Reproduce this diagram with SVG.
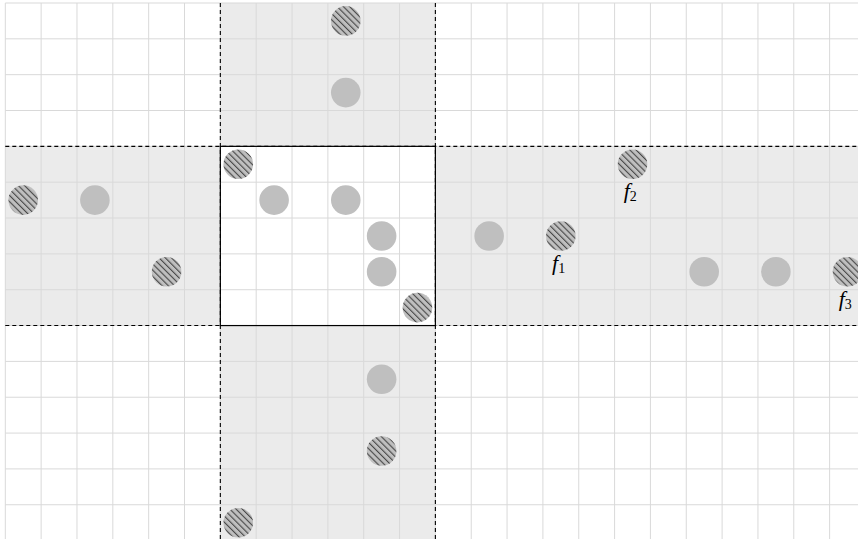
<svg xmlns="http://www.w3.org/2000/svg" width="858" height="539" viewBox="0 0 858 539">
<style>
.grid{stroke:#d9d9d9;stroke-width:1;fill:none}
.band{fill:#ebebeb}
.dash{stroke:#000;stroke-width:1.1;stroke-dasharray:4 3;fill:none}
.plain{fill:#bfbfbf}
.hatch{fill:url(#hp)}
.lbl{font-family:"Liberation Serif","DejaVu Serif",serif;font-size:22px;font-style:italic;fill:#000}
.sub{font-size:14px;font-style:normal}
</style>
<defs>
<pattern id="hp" patternUnits="userSpaceOnUse" width="4.4" height="4.4" patternTransform="rotate(-45)">
<rect width="4.4" height="4.4" fill="#bfbfbf"/>
<line x1="0.6" y1="0" x2="0.6" y2="4.4" stroke="#333" stroke-width="0.95"/>
</pattern>
</defs>
<rect width="858" height="539" fill="#fff"/>
<g id="bands">
<rect class="band" x="220.3" y="3" width="215.1" height="536"/>
<rect class="band" x="5.3" y="146.4" width="852.7" height="179.2"/>
<rect x="220.3" y="146.4" width="215.1" height="179.2" fill="#fff"/>
</g>
<g id="grid" class="grid">
<path d="M5.3 3V539M41.14 3V539M76.98 3V539M112.82 3V539M148.66 3V539M184.5 3V539M220.34 3V539M256.18 3V539M292.02 3V539M327.86 3V539M363.7 3V539M399.54 3V539M435.38 3V539M471.22 3V539M507.06 3V539M542.9 3V539M578.74 3V539M614.58 3V539M650.42 3V539M686.26 3V539M722.1 3V539M757.94 3V539M793.78 3V539M829.62 3V539"/>
<path d="M5.3 3H858M5.3 38.84H858M5.3 74.68H858M5.3 110.52H858M5.3 146.36H858M5.3 182.2H858M5.3 218.04H858M5.3 253.88H858M5.3 289.72H858M5.3 325.56H858M5.3 361.4H858M5.3 397.24H858M5.3 433.08H858M5.3 468.92H858M5.3 504.76H858"/>
</g>
<g id="dashed" class="dash">
<path d="M220.34 3V539M435.38 3V539M5.3 146.36H858M5.3 325.56H858"/>
</g>
<rect id="center-box" x="220.34" y="146.36" width="215.04" height="179.2" fill="none" stroke="#000" stroke-width="1.2"/>
<g id="top-band">
<g id="t1"><circle class="hatch" cx="345.78" cy="20.92" r="14.8"/></g>
<g id="t2"><circle class="plain" cx="345.78" cy="92.6" r="14.8"/></g>
</g>
<g id="center">
<g id="c1"><circle class="hatch" cx="238.26" cy="164.28" r="14.8"/></g>
<g id="c2"><circle class="plain" cx="274.1" cy="200.12" r="14.8"/></g>
<g id="c3"><circle class="plain" cx="345.78" cy="200.12" r="14.8"/></g>
<g id="c4"><circle class="plain" cx="381.62" cy="235.96" r="14.8"/></g>
<g id="c5"><circle class="plain" cx="381.62" cy="271.8" r="14.8"/></g>
<g id="c6"><circle class="hatch" cx="417.46" cy="307.64" r="14.8"/></g>
</g>
<g id="left-band">
<g id="l1"><circle class="hatch" cx="23.22" cy="200.12" r="14.8"/></g>
<g id="l2"><circle class="plain" cx="94.9" cy="200.12" r="14.8"/></g>
<g id="l3"><circle class="hatch" cx="166.58" cy="271.8" r="14.8"/></g>
</g>
<g id="right-band">
<g id="r1"><circle class="plain" cx="489.14" cy="235.96" r="14.8"/></g>
<g id="f1"><circle class="hatch" cx="560.82" cy="235.96" r="14.8"/><text class="lbl" x="552" y="270">f<tspan class="sub" dy="3">1</tspan></text></g>
<g id="f2"><circle class="hatch" cx="632.5" cy="164.28" r="14.8"/><text class="lbl" x="623.7" y="198.3">f<tspan class="sub" dy="3">2</tspan></text></g>
<g id="r2"><circle class="plain" cx="704.18" cy="271.8" r="14.8"/></g>
<g id="r3"><circle class="plain" cx="775.86" cy="271.8" r="14.8"/></g>
<g id="f3"><circle class="hatch" cx="847.54" cy="271.8" r="14.8"/><text class="lbl" x="838.7" y="305.8">f<tspan class="sub" dy="3">3</tspan></text></g>
</g>
<g id="bottom-band">
<g id="b1"><circle class="plain" cx="381.62" cy="379.32" r="14.8"/></g>
<g id="b2"><circle class="hatch" cx="381.62" cy="451" r="14.8"/></g>
<g id="b3"><circle class="hatch" cx="238.26" cy="522.68" r="14.8"/></g>
</g>
</svg>
